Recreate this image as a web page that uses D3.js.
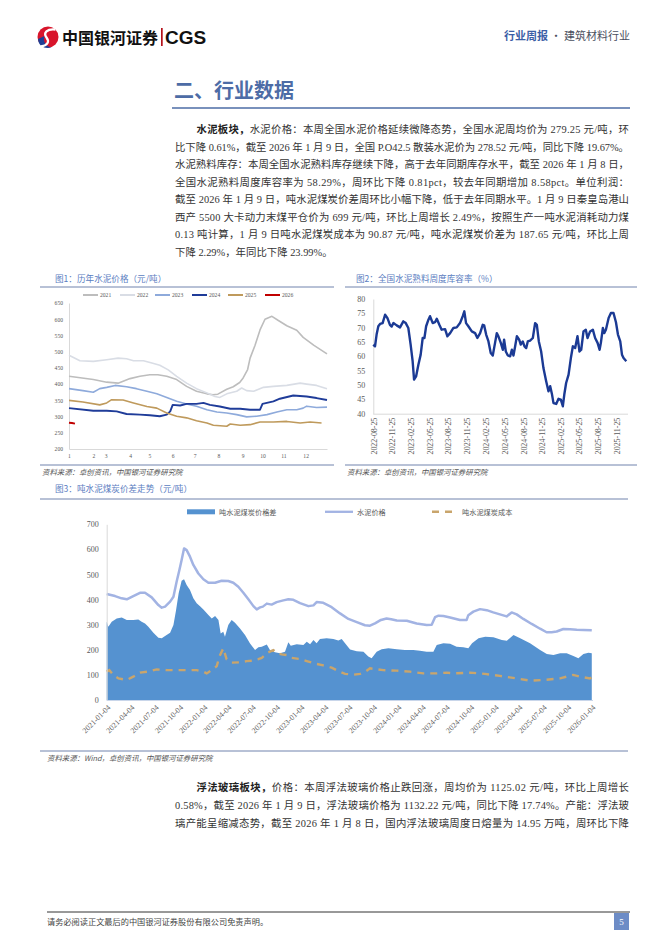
<!DOCTYPE html>
<html><head><meta charset="utf-8">
<script src="https://cdn.jsdelivr.net/npm/d3@7"></script>
<style>
body{margin:0;background:#fff;}
svg text{font-family:"Liberation Serif","Noto Sans CJK SC",serif;}
.cjk{font-family:"Noto Sans CJK SC",sans-serif !important;}
</style></head><body><svg id="page" width="662" height="936"></svg>
<script>
// ================= DATA =================
const headerBrand = "中国银河证券";
const headerCGS = "CGS";
const headerRight1 = "行业周报";
const headerRight2 = " · 建筑材料行业";
const sectionTitle = "二、行业数据";

const para1Bold = "水泥板块，";
const para1 = [
  "水泥价格：本周全国水泥价格延续微降态势，全国水泥周均价为 279.25 元/吨，环",
  "比下降 0.61%，截至 2026 年 1 月 9 日，全国 P.O42.5 散装水泥价为 278.52 元/吨，同比下降 19.67%。",
  "水泥熟料库存：本周全国水泥熟料库存继续下降，高于去年同期库存水平，截至 2026 年 1 月 8 日，",
  "全国水泥熟料周度库容率为 58.29%，周环比下降 0.81pct，较去年同期增加 8.58pct。单位利润：",
  "截至 2026 年 1 月 9 日，吨水泥煤炭价差周环比小幅下降，低于去年同期水平。1 月 9 日秦皇岛港山",
  "西产 5500 大卡动力末煤平仓价为 699 元/吨，环比上周增长 2.49%，按照生产一吨水泥消耗动力煤",
  "0.13 吨计算，1 月 9 日吨水泥煤炭成本为 90.87 元/吨，吨水泥煤炭价差为 187.65 元/吨，环比上周",
  "下降 2.29%，年同比下降 23.99%。"
];
const para2Bold = "浮法玻璃板块，";
const para2 = [
  "价格：本周浮法玻璃价格止跌回涨，周均价为 1125.02 元/吨，环比上周增长",
  "0.58%，截至 2026 年 1 月 9 日，浮法玻璃价格为 1132.22 元/吨，同比下降 17.74%。产能：浮法玻",
  "璃产能呈缩减态势，截至 2026 年 1 月 8 日，国内浮法玻璃周度日熔量为 14.95 万吨，周环比下降"
];
const footerText = "请务必阅读正文最后的中国银河证券股份有限公司免责声明。";
const pageNo = "5";

// ---- Figure 1 ----
const fig1Title = "图1：历年水泥价格（元/吨）";
const fig1Source = "资料来源：卓创资讯，中国银河证券研究院";
const years = ["2021","2022","2023","2024","2025","2026"];
const fig1YTicks = [200,250,300,350,400,450,500,550,600,650];
const monthLabels = ["1","2","3","4","5","6","7","8","9","10","11","12"];
const monthWeeks = [0,4.9,7.4,12.3,16.2,20.9,25.3,30.1,35.0,39.0,43.2,47.7];
const price2021 = [[0,424],[4.9,414],[7.6,406],[9.9,403],[12.3,417],[14.3,424],[16.3,429],[17.9,429],[19.7,424],[21.7,414],[23.7,393],[25.7,378],[27.8,370],[29.0,367],[30.0,369],[31.8,384],[33.1,392],[34.4,405],[35.1,419],[36.0,445],[36.5,480],[37.5,520],[38.5,567],[39.5,600],[40.9,609],[42.2,596],[43.9,580],[45.9,566],[47.2,544],[49.3,520],[52,493]];
const price2022 = [[0,489],[2.2,472],[4.9,470],[7.6,475],[9.9,480],[11.6,478],[13.0,472],[15.0,472],[16.7,465],[18.3,458],[20.0,444],[21.7,424],[23.7,403],[25.7,386],[27.8,373],[29.4,362],[30.4,359],[31.8,370],[33.8,378],[34.8,388],[35.8,380],[37.2,378],[39.2,390],[41.2,393],[43.9,396],[46.6,403],[47.9,400],[49.9,396],[52,386]];
const price2023 = [[0,386],[2.8,380],[4.9,375],[6.2,386],[7.6,390],[9.3,396],[11.6,392],[13.6,386],[15.7,378],[17.7,370],[19.7,359],[21.7,347],[23.7,339],[25.7,332],[27.8,321],[29.8,314],[31.8,311],[33.8,306],[35.8,299],[37.8,301],[39.9,306],[41.9,314],[43.9,321],[45.9,321],[47.2,326],[47.9,332],[49.9,328],[52,329]];
const price2024 = [[0,326],[4.9,318],[7.6,318],[9.6,316],[11.6,308],[14.3,306],[16.3,304],[18.3,301],[19.7,306],[20.4,316],[20.9,336],[22.4,334],[23.7,339],[25.7,339],[27.1,342],[28.4,336],[30.4,331],[32.5,324],[34.5,324],[36.5,321],[38.5,321],[39.0,339],[41.2,347],[42.5,355],[45.2,365],[47.9,362],[49.9,357],[52,351]];
const price2025 = [[0,350],[2.8,345],[6.2,336],[7.6,342],[8.6,352],[10.9,351],[13.0,342],[15.7,331],[17.7,326],[19.7,311],[21.7,301],[23.7,296],[25.7,287],[27.8,280],[29.1,273],[31.8,270],[32.5,277],[34.5,273],[36.5,275],[38.5,283],[41.2,283],[43.9,285],[46.6,280],[48.6,283],[50.9,280]];
const price2026 = [[0,281],[0.6,280],[1.2,278]];

// ---- Figure 2 ----
const fig2Title = "图2：全国水泥熟料周度库容率（%）";
const fig2Source = "资料来源：卓创资讯，中国银河证券研究院";
const fig2Start = "2022-08-25";
const fig2End = "2026-01-08";
const fig2YTicks = [40,45,50,55,60,65,70,75,80];
const fig2XTicks = ["2022-08-25","2022-11-25","2023-02-25","2023-05-25","2023-08-25","2023-11-25","2024-02-25","2024-05-25","2024-08-25","2024-11-25","2025-02-25","2025-05-25","2025-08-25","2025-11-25"];
// [weeks since start, %]
const clinkerRate = [[0,64.1],[1.2,63.5],[2.3,67.6],[3.5,70.5],[4.7,71.3],[6.5,71.6],[8.2,74.5],[9.8,73.4],[11.6,71.0],[12.8,70.4],[14.0,71.6],[16.3,70.8],[18.6,70.1],[20.9,72.2],[22.6,71.6],[24.4,69.9],[26.0,64.1],[27.4,58.3],[28.4,51.9],[29.8,53.0],[31.4,57.1],[33.0,60.6],[34.4,66.4],[35.6,66.4],[36.8,70.5],[38.4,72.8],[39.5,74.0],[41.4,71.6],[43.0,71.9],[44.2,73.1],[46.0,71.0],[47.6,69.3],[50.0,69.5],[51.6,67.0],[53.5,68.1],[55.8,69.9],[58.1,70.1],[60.4,71.6],[62.3,74.0],[63.4,75.7],[64.6,71.6],[66.2,70.5],[68.6,68.7],[70.9,68.1],[72.5,66.4],[74.4,68.1],[76.2,71.0],[77.2,70.8],[78.6,67.6],[80.2,65.2],[81.8,61.2],[83.2,60.3],[84.8,64.7],[86.0,68.1],[87.2,66.9],[88.8,64.7],[90.2,62.3],[91.1,65.8],[92.3,61.7],[93.7,60.3],[95.3,60.0],[96.5,62.3],[97.6,60.3],[98.8,63.5],[100.0,67.0],[101.6,65.8],[102.7,64.1],[104.1,65.2],[105.3,63.5],[106.5,62.9],[107.6,65.2],[109.2,65.5],[111.1,66.4],[112.7,71.6],[113.9,71.0],[115.3,65.2],[116.9,61.7],[118.5,55.9],[120.4,51.3],[122.0,47.8],[123.2,49.6],[124.4,46.9],[125.5,43.7],[127.4,43.4],[129.0,45.2],[130.6,44.9],[132.0,42.6],[133.0,46.6],[134.3,50.7],[136.0,53.6],[137.6,59.4],[139.0,63.5],[140.6,62.9],[142.2,67.0],[143.6,61.7],[144.8,62.3],[146.4,68.7],[148.0,69.3],[149.2,66.4],[151.0,68.7],[152.9,69.3],[154.5,66.4],[156.2,64.7],[157.6,62.3],[158.5,64.7],[159.9,69.9],[160.9,68.1],[162.0,69.3],[163.9,73.4],[165.5,75.1],[167.3,75.1],[169.0,71.9],[170.4,67.6],[172.0,65.2],[173.2,60.6],[174.3,59.4],[176.2,58.3]];

// ---- Figure 3 ----
const fig3Title = "图3：吨水泥煤炭价差走势（元/吨）";
const fig3Source = "资料来源：Wind，卓创资讯，中国银河证券研究院";
const fig3Legend = ["吨水泥煤炭价格差","水泥价格","吨水泥煤炭成本"];
const fig3Start = "2021-01-04";
const fig3YTicks = [0,100,200,300,400,500,600,700];
const fig3XTicks = ["2021-01-04","2021-04-04","2021-07-04","2021-10-04","2022-01-04","2022-04-04","2022-07-04","2022-10-04","2023-01-04","2023-04-04","2023-07-04","2023-10-04","2024-01-04","2024-04-04","2024-07-04","2024-10-04","2025-01-04","2025-04-04","2025-07-04","2025-10-04","2026-01-04"];
// [weeks since start, 元/吨]
const cementPrice = [[0,422],[4.5,414],[8,405],[10.8,401],[14.3,414],[17.9,427],[20.6,427],[24.2,409],[27.8,378],[29.6,368],[31.4,372],[34.1,392],[35.9,411],[37.6,471],[39.1,518],[40.3,558],[41.6,604],[43.0,597],[44.8,571],[46.6,538],[49.3,504],[52.0,481],[54.7,467],[58.3,467],[61.8,475],[65.4,474],[68.1,467],[70.8,451],[73.5,427],[76.2,401],[78.9,374],[80.7,361],[82.5,369],[84,372],[86.1,384],[88.7,380],[91.4,390],[95.0,397],[97.7,401],[100.4,399],[104.0,386],[108.5,374],[111.2,377],[112.9,390],[116.5,387],[121.0,370],[125.5,345],[130.0,323],[134.5,310],[138.9,298],[141.6,296],[144.3,305],[147.5,319],[150.5,325],[153,322],[156.0,317],[161.4,316],[166.7,305],[172.1,299],[174.8,300],[176.6,330],[178.5,336],[181.1,335],[184.7,329],[190.0,319],[193.6,319],[194.5,338],[197.2,352],[200.8,362],[204.4,358],[207.9,349],[211.5,341],[215.1,333],[217.8,349],[220.5,341],[224.1,323],[228.6,303],[233.1,284],[236.6,270],[239.3,270],[242.0,273],[245.6,283],[249.2,282],[252.8,280],[256.4,279],[260.9,278]];
const coalSpread = [[0,312],[0.9,292],[2.7,312],[5.4,325],[8.1,329],[10.8,319],[14.3,319],[17.0,321],[18.8,312],[20.6,305],[22.4,292],[25.1,268],[27.8,248],[29.6,246],[31.4,255],[34.1,268],[35.9,299],[37.3,358],[38.7,425],[40.3,475],[41.6,481],[43.0,458],[44.8,438],[46.6,405],[48.4,385],[50.2,374],[52.0,361],[54.7,339],[56.5,325],[58.3,335],[60.1,319],[61.3,265],[62.7,272],[63.6,252],[65.4,299],[67.2,319],[69.0,308],[71.7,285],[74.4,259],[77.1,225],[79.8,199],[81.6,210],[83.4,212],[86.1,221],[87.8,199],[90.5,190],[93.2,186],[95.9,192],[97.7,230],[99.0,216],[102.2,222],[105.8,219],[107.6,232],[109.4,222],[111.2,239],[112.9,226],[114.7,243],[118.3,246],[121.9,243],[124.6,237],[126.4,243],[128.2,226],[130.9,201],[134.5,194],[138.1,192],[140.7,173],[142.5,166],[145.2,192],[147.9,202],[151.5,206],[156.0,202],[160.4,199],[164.9,199],[168.5,196],[172.1,192],[175.7,192],[177.5,219],[181.1,226],[184.7,224],[188.2,212],[191.8,210],[194.5,206],[196.5,226],[200.0,246],[203.6,252],[208.0,250],[212.5,239],[215.2,236],[218.8,259],[222.4,246],[227.7,226],[233.1,199],[236.7,183],[240.3,179],[243.9,186],[247.4,186],[251.0,175],[253.7,166],[256.4,183],[259.1,188],[260.9,186]];
const coalCost = [[0,113],[1.4,119],[3.6,100],[6.3,86],[10.8,80],[14.3,93],[17.9,109],[22.4,113],[26.9,122],[32.3,119],[37.6,119],[43.0,119],[48.4,119],[52.0,113],[53.8,106],[56.5,119],[59.2,135],[60.6,173],[62.7,206],[64.5,162],[67.2,149],[71.7,150],[75.3,155],[78.9,157],[81.6,163],[83.4,168],[86.9,190],[89.6,199],[91.8,186],[94.1,182],[96.8,179],[99.5,168],[104.0,163],[107.6,155],[112.0,145],[116.5,138],[121.0,129],[124.6,115],[128.2,104],[132.7,101],[136.3,104],[139,112],[141.6,126],[148.8,119],[156.0,117],[163.1,113],[170.3,106],[177.5,106],[182.9,109],[186.5,106],[195.4,109],[203.4,104],[211.5,96],[220.4,86],[227.6,77],[235.7,80],[243.8,86],[250.9,100],[254.5,93],[259.9,86],[260.9,91]];

// ================= DRAW =================
const svg = d3.select("#page");
const parse = d3.timeParse("%Y-%m-%d");
const fmt = d3.timeFormat("%Y-%m-%d");
const TXT = "#333333", AX = "#595959", TITLEBLUE = "#5a7dbf", RULE = "#7083ad";

// ---- header ----
const logo = svg.append("g");
logo.append("circle").attr("cx",48).attr("cy",37).attr("r",10.5).attr("fill","#d8152b");
logo.append("path").attr("d","M38,39 C38.5,46.5 45,49 51.5,47.5 C45,46 43,41 44.5,36 Z").attr("fill","#1f3f95");
logo.append("path").attr("d","M55.5,29.5 C47,28.5 43,33 46.5,37.5 C50,42 47,45.5 41,46.5").attr("fill","none").attr("stroke","#fff").attr("stroke-width",2.3);
svg.append("text").attr("class","cjk").attr("x",62).attr("y",43.5).attr("font-size",16).attr("font-weight","bold").attr("fill","#111").text(headerBrand);
svg.append("rect").attr("x",161).attr("y",28).attr("width",1.7).attr("height",18).attr("fill","#b5121b");
svg.append("text").attr("x",165).attr("y",44).attr("font-size",19).attr("font-weight","bold").attr("fill","#111").style("font-family","Liberation Sans, Arial, sans-serif").text(headerCGS);
const hr = svg.append("text").attr("class","cjk").attr("x",630).attr("y",40).attr("text-anchor","end").attr("font-size",11);
hr.append("tspan").attr("fill","#3b5ea6").attr("font-weight","bold").text(headerRight1);
hr.append("tspan").attr("fill","#4a4f5e").text(headerRight2);

// ---- section title ----
svg.append("text").attr("class","cjk").attr("x",174).attr("y",98).attr("font-size",20).attr("font-weight","bold").attr("fill","#4d6ca6").text(sectionTitle);
svg.append("line").attr("x1",172).attr("x2",630).attr("y1",108).attr("y2",108).attr("stroke","#4d6ca6").attr("stroke-width",1.3);

// ---- paragraphs ----
function paragraph(boldPrefix, lines, y0, dy) {
  lines.forEach((ln, i) => {
    const x0 = i === 0 ? 196.5 : 175;
    const t = svg.append("text").attr("x", x0).attr("y", y0 + i*dy).attr("font-size", 10.4).attr("fill", TXT);
    if (i === 0) t.append("tspan").attr("font-weight","bold").attr("fill","#222").text(boldPrefix);
    t.append("tspan").text(ln);
    if (i < lines.length - 1 || lines.length === 3) {
      t.attr("textLength", 629 - x0).attr("lengthAdjust","spacing");
    }
  });
}
paragraph(para1Bold, para1, 133, 17.5);
paragraph(para2Bold, para2, 791, 18);

// ---- helper for chart frames ----
function frame(x1, x2, titleY, lineY, title, srcLineY, srcY, src, titleX, srcX) {
  svg.append("text").attr("class","cjk").attr("x",titleX).attr("y",titleY).attr("font-size",8.6).attr("fill",TITLEBLUE).text(title);
  svg.append("line").attr("x1",x1).attr("x2",x2).attr("y1",lineY).attr("y2",lineY).attr("stroke",RULE).attr("stroke-width",1);
  svg.append("line").attr("x1",x1).attr("x2",x2).attr("y1",srcLineY).attr("y2",srcLineY).attr("stroke",RULE).attr("stroke-width",1);
  svg.append("text").attr("class","cjk").attr("x",srcX).attr("y",srcY).attr("font-size",7.4).attr("font-style","italic").attr("fill","#555").text(src);
}
frame(40, 334, 282, 287, fig1Title, 465, 475, fig1Source, 55, 42);
frame(345, 637, 282, 287, fig2Title, 465, 475, fig2Source, 356, 347);
frame(40, 628, 492, 499, fig3Title, 751, 761, fig3Source, 55, 47);

function styleAxis(g, fs) {
  g.selectAll(".domain").attr("stroke","#d9d9d9");
  g.selectAll("text").attr("fill",AX).attr("font-size",fs).style("font-family","Liberation Serif, serif");
}

// ---- Figure 1 ----
{
  const x = d3.scaleLinear().domain([0,52]).range([69,327]);
  const y = d3.scaleLinear().domain([200,650]).range([449,303]);
  const gy = svg.append("g").attr("transform","translate(69,0)")
    .call(d3.axisLeft(y).tickValues(fig1YTicks).tickSize(0).tickPadding(6));
  styleAxis(gy, 5.6);
  const gx = svg.append("g").attr("transform","translate(0,449)")
    .call(d3.axisBottom(x).tickValues(monthWeeks).tickFormat((d,i)=>monthLabels[i]).tickSize(0).tickPadding(5));
  styleAxis(gx, 5.6);
  const colors = ["#bdbdbd","#d9dde5","#8eaadb","#1f3c99","#bf9a5c","#c00000"];
  const widths = [1.6,1.6,1.6,1.9,1.6,1.9];
  const series = [price2021,price2022,price2023,price2024,price2025,price2026];
  const line = d3.line().x(d=>x(d[0])).y(d=>y(d[1]));
  series.forEach((s,i)=>{
    svg.append("path").datum(s).attr("d",line).attr("fill","none").attr("stroke",colors[i]).attr("stroke-width",widths[i]).attr("stroke-linejoin","round");
  });
  const legX = [83,120,155,192,228,265];
  years.forEach((yr,i)=>{
    svg.append("line").attr("x1",legX[i]).attr("x2",legX[i]+15).attr("y1",295).attr("y2",295).attr("stroke",colors[i]).attr("stroke-width",2);
    svg.append("text").attr("x",legX[i]+17).attr("y",297).attr("font-size",5.6).attr("fill",AX).text(yr);
  });
}

// ---- Figure 2 ----
{
  const start = parse(fig2Start);
  const x = d3.scaleTime().domain([start, parse(fig2End)]).range([373.3,626]);
  const y = d3.scaleLinear().domain([40,80]).range([413.7,299]);
  const gy = svg.append("g").attr("transform","translate(373.3,0)")
    .call(d3.axisLeft(y).tickValues(fig2YTicks).tickSize(0).tickPadding(8));
  styleAxis(gy, 8);
  const gx = svg.append("g").attr("transform","translate(0,413.7)")
    .call(d3.axisBottom(x).tickValues(fig2XTicks.map(parse)).tickFormat(fmt).tickSize(0).tickSizeOuter(0));
  gx.select(".domain").attr("d","M373.3,0.5H628");
  styleAxis(gx, 7.9);
  gx.selectAll("text").attr("text-anchor","end").attr("dy","0.35em").attr("dx",0).attr("y",0)
    .attr("transform","translate(0,4) rotate(-90)");
  const line = d3.line().x(d=>x(d3.timeHour.offset(start, Math.round(d[0]*168)))).y(d=>y(d[1]));
  svg.append("path").datum(clinkerRate).attr("d",line).attr("fill","none").attr("stroke","#1b3a94").attr("stroke-width",2.4).attr("stroke-linejoin","round");
}

// ---- Figure 3 ----
{
  const start = parse(fig3Start);
  const toDate = w => d3.timeHour.offset(start, Math.round(w*168));
  const x = d3.scaleTime().domain([start, parse(fig3XTicks[fig3XTicks.length-1])]).range([106.7,591.7]);
  const y = d3.scaleLinear().domain([0,700]).range([700,524.3]);
  const area = d3.area().x(d=>x(toDate(d[0]))).y0(y(0)).y1(d=>y(d[1]));
  svg.append("path").datum(coalSpread).attr("d",area).attr("fill","#5592d0");
  const line = d3.line().x(d=>x(toDate(d[0]))).y(d=>y(d[1]));
  svg.append("path").datum(cementPrice).attr("d",line).attr("fill","none").attr("stroke","#a2b3e3").attr("stroke-width",2.5).attr("stroke-linejoin","round");
  svg.append("path").datum(coalCost).attr("d",line).attr("fill","none").attr("stroke","#c9a56c").attr("stroke-width",2.4).attr("stroke-dasharray","7,6");
  const gy = svg.append("g").attr("transform","translate(106.7,0)")
    .call(d3.axisLeft(y).tickValues(fig3YTicks).tickSize(0).tickPadding(8));
  styleAxis(gy, 8);
  const gx = svg.append("g").attr("transform","translate(0,700)")
    .call(d3.axisBottom(x).tickValues(fig3XTicks.map(parse)).tickFormat(fmt).tickSize(0).tickSizeOuter(0));
  gx.select(".domain").attr("d","M106.7,0.5H593");
  styleAxis(gx, 7.8);
  gx.selectAll(".domain").attr("stroke","#c9d6ea");
  gx.selectAll("text").attr("text-anchor","end").attr("dy","0.35em").attr("y",0)
    .attr("transform","translate(2,6) rotate(-45)");
  // legend
  svg.append("rect").attr("x",187).attr("y",509.3).attr("width",28).attr("height",5).attr("fill","#5592d0");
  svg.append("text").attr("class","cjk").attr("x",219).attr("y",514.5).attr("font-size",7.2).attr("fill",AX).text(fig3Legend[0]);
  svg.append("line").attr("x1",325).attr("x2",353).attr("y1",511.8).attr("y2",511.8).attr("stroke","#a2b3e3").attr("stroke-width",2.3);
  svg.append("text").attr("class","cjk").attr("x",357).attr("y",514.5).attr("font-size",7.2).attr("fill",AX).text(fig3Legend[1]);
  svg.append("line").attr("x1",432).attr("x2",456).attr("y1",511.8).attr("y2",511.8).attr("stroke","#c9a56c").attr("stroke-width",2.4).attr("stroke-dasharray","7,6");
  svg.append("text").attr("class","cjk").attr("x",462).attr("y",514.5).attr("font-size",7.2).attr("fill",AX).text(fig3Legend[2]);
}

// ---- footer ----
svg.append("line").attr("x1",47).attr("x2",630).attr("y1",912).attr("y2",912).attr("stroke","#333").attr("stroke-width",1);
svg.append("text").attr("class","cjk").attr("x",47).attr("y",925).attr("font-size",8.2).attr("fill","#444").text(footerText);
svg.append("rect").attr("x",614).attr("y",913).attr("width",15).attr("height",17).attr("fill","#6d8cc6");
svg.append("text").attr("x",621.5).attr("y",925).attr("text-anchor","middle").attr("font-size",9).attr("fill","#fff").text(pageNo);
</script></body></html>
